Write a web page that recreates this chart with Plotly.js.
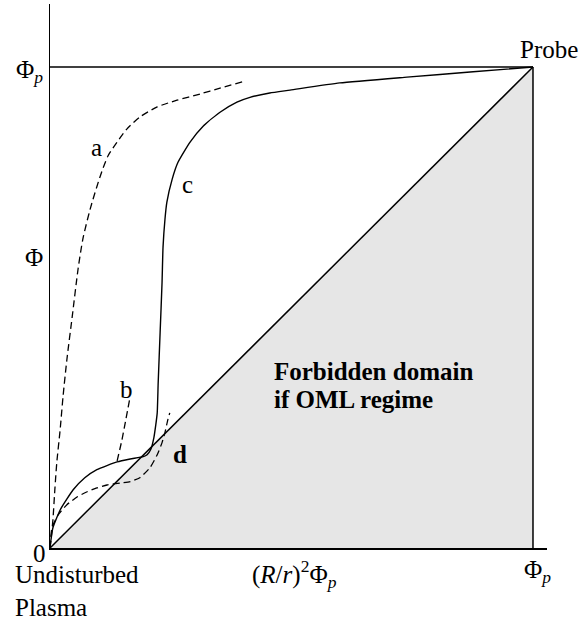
<!DOCTYPE html>
<html>
<head>
<meta charset="utf-8">
<script src="https://cdn.plot.ly/plotly-3.0.1.min.js"></script>
<style>html,body{margin:0;padding:0;background:#fff;}#chart{width:579px;height:621px;}</style>
</head>
<body>
<div id="chart"></div>
<script>
// ---- data (potential Φ normalised to Φp, distance axis normalised) ----
const curveA_x = [0, 0.002, 0.006, 0.010, 0.014, 0.021, 0.027, 0.035, 0.046, 0.058, 0.068, 0.083, 0.104, 0.120, 0.139, 0.159, 0.186, 0.222, 0.263, 0.311, 0.352, 0.398];
const curveA_y = [0, 0.017, 0.058, 0.121, 0.177, 0.246, 0.315, 0.392, 0.481, 0.579, 0.642, 0.704, 0.773, 0.815, 0.844, 0.871, 0.896, 0.917, 0.931, 0.944, 0.956, 0.969];

const curveB_x = [0.139, 0.149, 0.157, 0.166];
const curveB_y = [0.181, 0.225, 0.267, 0.315];

const curveC_x = [0, 0.002, 0.006, 0.021, 0.048, 0.072, 0.097, 0.139, 0.166, 0.193, 0.201, 0.209, 0.215, 0.219, 0.222, 0.224, 0.228, 0.232, 0.234, 0.238, 0.242, 0.253, 0.265, 0.290, 0.317, 0.352, 0.387, 0.414, 0.455, 0.497, 0.600, 0.739, 0.876, 1.0];
const curveC_y = [0, 0.017, 0.042, 0.079, 0.121, 0.146, 0.163, 0.179, 0.185, 0.190, 0.194, 0.206, 0.229, 0.256, 0.281, 0.344, 0.448, 0.552, 0.625, 0.683, 0.719, 0.767, 0.802, 0.844, 0.877, 0.906, 0.927, 0.937, 0.946, 0.952, 0.967, 0.979, 0.990, 1.0];

const curveD_x = [0, 0.004, 0.017, 0.035, 0.056, 0.077, 0.097, 0.118, 0.145, 0.166, 0.186, 0.207, 0.222, 0.232, 0.238, 0.244, 0.248];
const curveD_y = [0, 0.042, 0.069, 0.090, 0.106, 0.117, 0.125, 0.131, 0.135, 0.138, 0.146, 0.167, 0.194, 0.219, 0.240, 0.267, 0.281];

// OML limit (diagonal) and probe potential lines
const diag_x = [0, 1];
const diag_y = [0, 1];
const probeLevel_x = [0, 1];
const probeLevel_y = [1, 1];
const probePos_x = [1, 1];
const probePos_y = [0, 1];
const forbidden_x = [0, 1, 1, 0];
const forbidden_y = [0, 0, 1, 0];

// tick labels
const yTickVals = [1, 0.604, 0];
const yTickText = ['Φ<sub><i>p</i></sub>', 'Φ', '0'];
const xTickVals = [0.507, 1.0];
const xTickText = ['(<i>R</i>/<i>r</i>)<sup>2</sup>Φ<sub><i>p</i></sub>', 'Φ<sub><i>p</i></sub>'];

const curveLabels = ['a', 'b', 'c', '<b>d</b>'];
const curveLabelX = [0.097, 0.159, 0.285, 0.269];
const curveLabelY = [0.833, 0.329, 0.756, 0.194];

const regionLines = ['<b>Forbidden domain</b>', '<b>if OML regime</b>'];

const FONT = 'Liberation Serif';
const FS = 25;
const black = '#000';

const traces = [
  {x: forbidden_x, y: forbidden_y, mode: 'lines', fill: 'toself', fillcolor: '#e6e6e6', line: {width: 0, color: 'rgba(0,0,0,0)'}},
  {x: diag_x, y: diag_y, mode: 'lines', line: {color: black, width: 1.5}},
  {x: probeLevel_x, y: probeLevel_y, mode: 'lines', line: {color: black, width: 1.5}},
  {x: probePos_x, y: probePos_y, mode: 'lines', line: {color: black, width: 1.5}},
  {x: curveA_x, y: curveA_y, mode: 'lines', line: {color: black, width: 1.3, dash: '7px,4px', shape: 'spline', smoothing: 0.7}},
  {x: curveB_x, y: curveB_y, mode: 'lines', line: {color: black, width: 1.3, dash: '7px,4px', shape: 'spline', smoothing: 0.5}},
  {x: curveC_x, y: curveC_y, mode: 'lines', line: {color: black, width: 1.4, shape: 'spline', smoothing: 0.5}},
  {x: curveD_x, y: curveD_y, mode: 'lines', line: {color: black, width: 1.3, dash: '7px,4px', shape: 'spline', smoothing: 0.5}}
];

const annotations = [];
yTickVals.forEach((v, i) => {
  annotations.push({x: 0, y: v, xref: 'x', yref: 'y', text: yTickText[i], showarrow: false,
    xanchor: 'right', yanchor: 'middle', xshift: i === 2 ? -2 : -5, yshift: i === 2 ? -5 : (i === 0 ? -4 : 0),
    font: {family: FONT, size: FS, color: black}});
});
xTickVals.forEach((v, i) => {
  annotations.push({x: v, y: 0, xref: 'x', yref: 'y', text: xTickText[i], showarrow: false,
    xanchor: 'center', yanchor: 'top', xshift: i === 1 ? 5 : 0, yshift: -6,
    font: {family: FONT, size: FS, color: black}});
});
curveLabels.forEach((t, i) => {
  annotations.push({x: curveLabelX[i], y: curveLabelY[i], xref: 'x', yref: 'y', text: t, showarrow: false,
    xanchor: 'center', yanchor: 'middle', font: {family: FONT, size: FS, color: black}});
});
annotations.push({x: 0, y: 0, xref: 'x', yref: 'y', text: 'Undisturbed<br>Plasma', showarrow: false,
  xanchor: 'left', yanchor: 'top', align: 'left', xshift: -37, yshift: -11,
  font: {family: FONT, size: FS, color: black}});
annotations.push({x: 1, y: 1, xref: 'x', yref: 'y', text: 'Probe', showarrow: false,
  xanchor: 'center', yanchor: 'bottom', xshift: 16, yshift: 2,
  font: {family: FONT, size: FS, color: black}});
[0.367, 0.308].forEach((yy, i) => {
  annotations.push({x: 0.4596, y: yy, xref: 'x', yref: 'y', text: regionLines[i], showarrow: false,
    xanchor: 'left', yanchor: 'middle', align: 'left',
    font: {family: FONT, size: FS, color: black}});
});

const layout = {
  width: 579, height: 621,
  margin: {l: 50, r: 32, t: 4, b: 73},
  paper_bgcolor: '#fff', plot_bgcolor: '#fff',
  font: {family: FONT},
  showlegend: false, hovermode: false,
  xaxis: {range: [0, 1.029], showline: true, linecolor: black, linewidth: 1.5, showgrid: false, zeroline: false, showticklabels: false, ticks: '', fixedrange: true},
  yaxis: {range: [0, 1.131], showline: true, linecolor: black, linewidth: 1.5, showgrid: false, zeroline: false, showticklabels: false, ticks: '', fixedrange: true},
  annotations: annotations
};

Plotly.newPlot('chart', traces, layout, {staticPlot: true, displayModeBar: false});
</script>
</body>
</html>
